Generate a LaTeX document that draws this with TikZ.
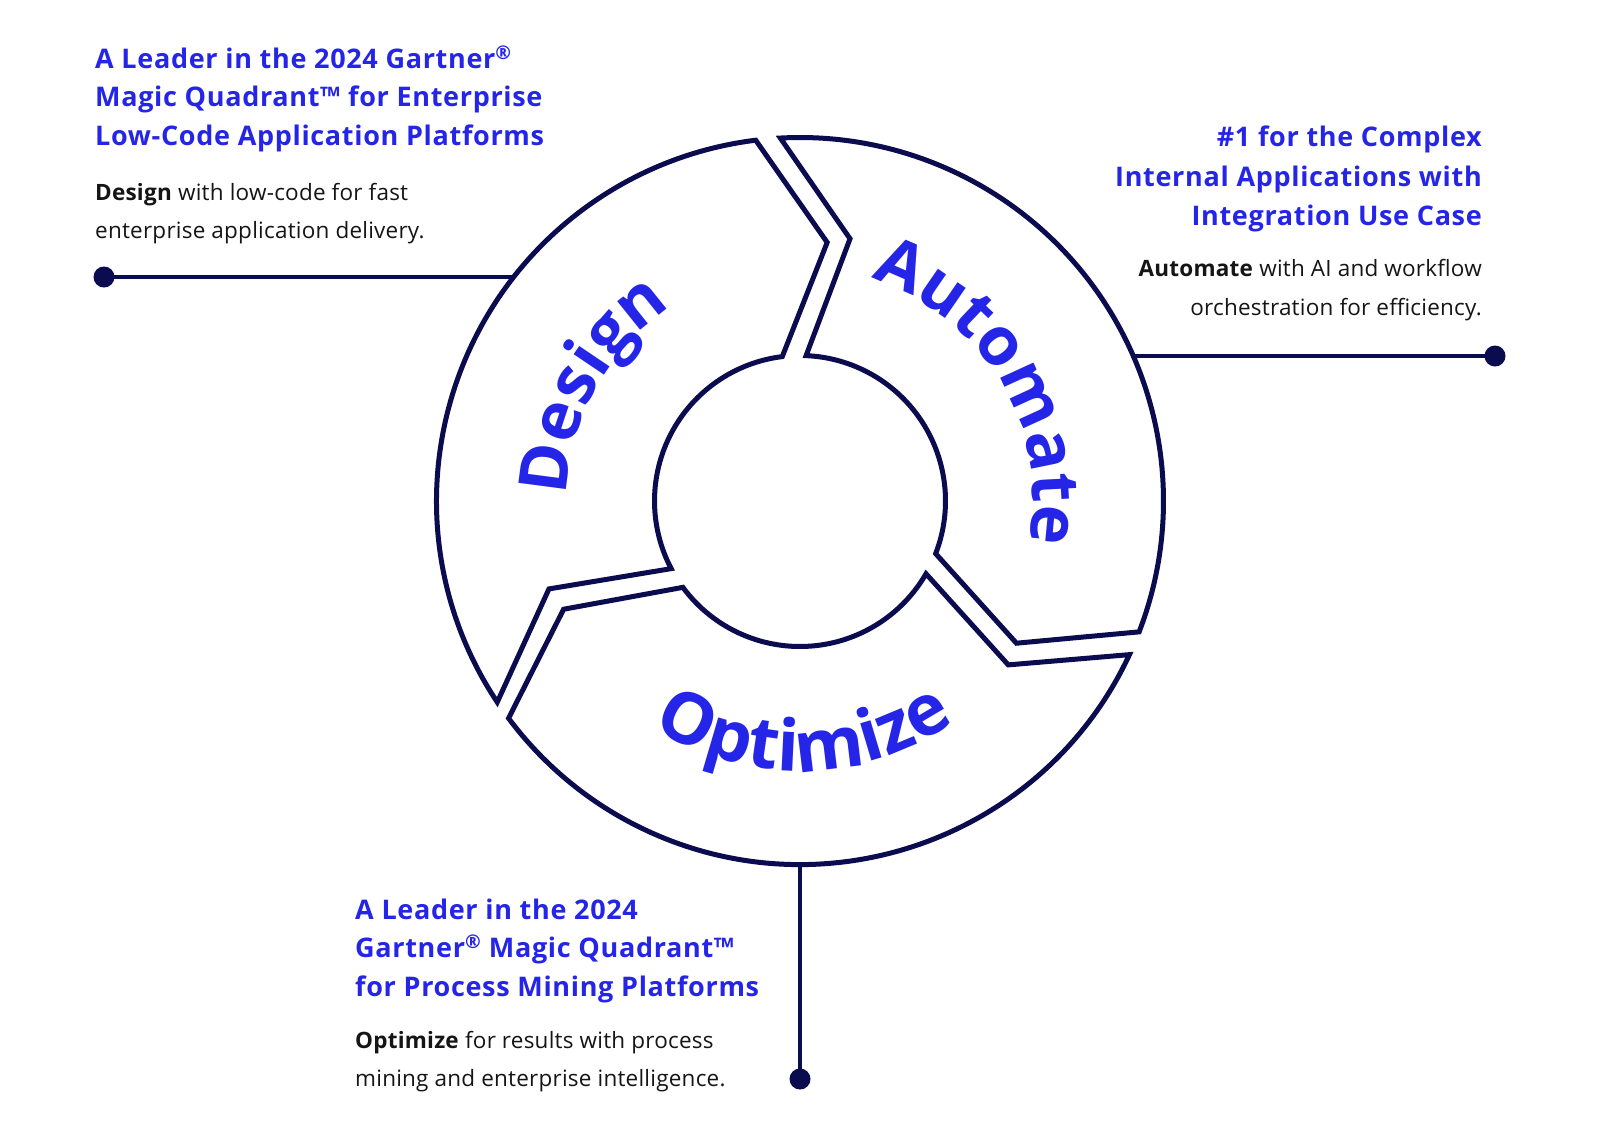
\documentclass[tikz,border=0pt]{standalone}
\usepackage{fontspec}
\setmainfont{Open Sans}
\usetikzlibrary{decorations.text}
\definecolor{navy}{HTML}{0B0B4F}
\definecolor{brand}{HTML}{2525E8}
\definecolor{ink}{HTML}{151515}
\newcommand\arcfont{\fontsize{67}{67}\selectfont\bfseries}
\newcommand\arcfontwide{\fontsize{71}{71}\selectfont\bfseries}
\begin{document}
\begin{tikzpicture}[x=1pt,y=-1pt,
  ring/.style={draw=navy, line width=5pt, line join=miter},
  lead/.style={draw=navy, line width=4.5pt},
  dotmark/.style={circle, fill=navy, minimum size=21pt, inner sep=0pt},
  head/.style={anchor=base west, inner sep=0pt, text=brand, font=\fontsize{27}{30}\selectfont\bfseries\addfontfeatures{LetterSpace=2.5}},
  body/.style={anchor=base west, inner sep=0pt, text=ink, font=\fontsize{22.5}{26}\selectfont\addfontfeatures{LetterSpace=1}},
  headR/.style={head, anchor=base east},
  bodyR/.style={body, anchor=base east},
  arctext/.style={decorate, decoration={text along path, text color=brand, text align=center, text={|\arcfont|#1}}},
  arctextwide/.style={decorate, decoration={text along path, text color=brand, text align=center, text={|\arcfontwide|#1}}}
]
\useasboundingbox[fill=white] (0,0) rectangle (1600,1128);

% ring segments
\begin{scope}[shift={(800,501)}]
  \draw[ring] (213.6:363.5pt) arc[start angle=213.6, end angle=97, radius=363.5pt]
     -- (84:260pt) -- (97:145.5pt) arc[start angle=97, end angle=207.7, radius=145.5pt]
     -- (199.3:266pt) -- cycle;
  \draw[ring] (93.1:363.5pt) arc[start angle=93.1, end angle=-21.1, radius=363.5pt]
     -- (-33.3:259pt) -- (-21.2:145.5pt) arc[start angle=-21.2, end angle=87.6, radius=145.5pt]
     -- (79.2:267pt) -- cycle;
  \draw[ring] (-25:363.5pt) arc[start angle=-25, end angle=-143.3, radius=363.5pt]
     -- (-155.4:260pt) -- (-143.6:145.5pt) arc[start angle=-143.6, end angle=-30, radius=145.5pt]
     -- (-38.2:265pt) -- cycle;

  \path[arctext=Design] (198:233pt) arc[start angle=198, end angle=104, radius=233pt];
  \path[arctext=Automate] (83:233pt) arc[start angle=83, end angle=-21, radius=233pt];
  \path[arctextwide=Optimize] (216:270pt) arc[start angle=216, end angle=326, radius=270pt];
\end{scope}

% connectors
\coordinate (ringL) at (513.7,277);
\coordinate (ringR) at (1133.3,356);
\coordinate (ringB) at (800,864.5);
\node[dotmark] (dotL) at (104,277) {};
\node[dotmark] (dotR) at (1495,356) {};
\node[dotmark] (dotB) at (800,1079) {};
\draw[lead] (dotL.center) -- (ringL);
\draw[lead] (ringR) -- (dotR.center);
\draw[lead] (ringB) -- (dotB.center);

% top-left block
\node[head] (tl1) at (95,68.3) {A Leader in the 2024 Gartner\textsuperscript{®}};
\node[head] (tl2) at (95,106.7) {Magic Quadrant™ for Enterprise};
\node[head] (tl3) at (95,145) {Low-Code Application Platforms};
\node[body] (tl4) at (95,200) {\textbf{Design} with low-code for fast};
\node[body] (tl5) at (95,238.3) {enterprise application delivery.};

% right block
\node[headR] (tr1) at (1482,146.7) {\#1 for the Complex};
\node[headR] (tr2) at (1482,186) {Internal Applications with};
\node[headR] (tr3) at (1482,225) {Integration Use Case};
\node[bodyR] (tr4) at (1482,276.7) {\textbf{Automate} with AI and workflow};
\node[bodyR] (tr5) at (1482,315) {orchestration for efficiency.};

% bottom block
\node[head] (b1) at (355,919.3) {A Leader in the 2024};
\node[head] (b2) at (355,957.3) {Gartner\textsuperscript{®} Magic Quadrant™};
\node[head] (b3) at (355,996.7) {for Process Mining Platforms};
\node[body] (b4) at (355,1048.3) {\textbf{Optimize} for results with process};
\node[body] (b5) at (355,1086.7) {mining and enterprise intelligence.};
\end{tikzpicture}
\end{document}
